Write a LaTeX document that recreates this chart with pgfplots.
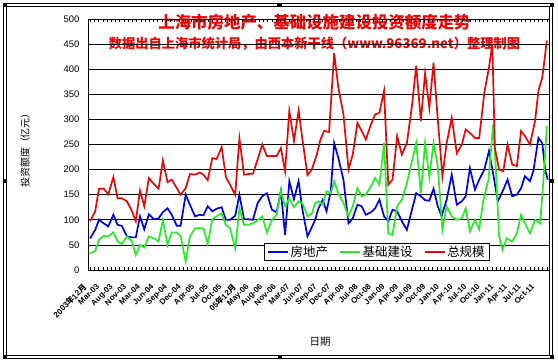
\documentclass[border=0pt]{standalone}
\usepackage{fontspec}
\setmainfont{Liberation Sans}
\newfontfamily\cjk{Noto Sans CJK SC}
\usepackage{pgfplots}
\pgfplotsset{compat=1.18}
\definecolor{cblue}{RGB}{0,0,225}
\definecolor{cgreen}{RGB}{40,235,40}
\definecolor{cred}{RGB}{228,8,8}
\definecolor{ctitle}{RGB}{240,0,0}
\begin{document}
\begin{tikzpicture}
\useasboundingbox (-88bp,-93bp) rectangle (470bp,270bp);
\node[text=ctitle, font=\cjk\bfseries\fontsize{16.5}{18}\selectfont, inner sep=0pt] at (226.5bp,247.3bp) {上海市房地产、基础设施建设投资额度走势};
\node[text=ctitle, font=\cjk\bfseries\fontsize{13.3}{15}\selectfont, inner sep=0pt] at (226.5bp,226.7bp) {数据出自上海市统计局，由西本新干线（www.96369.net）整理制图};
\begin{axis}[
  at={(0,0)}, anchor=south west,
  scale only axis, width=461bp, height=251bp,
  xmin=-0.5, xmax=108.5, ymin=0, ymax=500,
  ytick={0,50,...,500},
  ymajorgrids, grid style={black, line width=0.75bp},
  axis line style={black, line width=0.75bp},
  xtick={0,3.215,6.43,9.645,12.86,16.075,19.29,22.505,25.72,28.935,32.15,35.365,38.58,41.795,45.01,48.225,51.44,54.655,57.87,61.085,64.3,67.515,70.73,73.945,77.16,80.375,83.59,86.805,90.02,93.235,96.45,99.665,102.88,106.095},
  xticklabels={{2003{\cjk 年}12{\cjk 月}},Mar-03,Aug-03,Nov-03,Mar-04,Jun-04,Sep-04,Dec-04,Apr-05,Jul-05,Oct-05,{05{\cjk 年}12{\cjk 月}},May-06,Aug-06,Nov-06,Mar-07,Jun-07,Sep-07,Dec-07,Apr-08,Jul-08,Oct-08,Jan-09,Apr-09,Jul-09,Oct-09,Jan-10,Apr-10,Jul-10,Oct-10,Jan-11,Apr-11,Jul-11,Oct-11},
  minor xtick={0,1,...,108},
  major tick length=0pt, minor tick length=2.5bp, tick align=inside,
  tick style={black, line width=0.6bp},
  xticklabel style={font=\bfseries\fontsize{8}{8.5}\selectfont, inner sep=0pt, xshift=-8bp, yshift=-13bp, rotate=45, anchor=north east},
  yticklabel style={font=\fontsize{9.5}{10}\selectfont, xshift=-5bp},
  /pgf/number format/assume math mode=true,
  legend style={at={(axis description cs:0.382,0.036)}, anchor=south west, legend columns=3, draw=black, line width=0.75bp, fill=white, font=\cjk\fontsize{12.5}{13}\selectfont, inner xsep=3bp, inner ysep=1bp, /tikz/every even column/.append style={column sep=10bp}, nodes={inner sep=1.5bp}},
  legend image code/.code={\draw[#1] (0bp,0bp) -- (20bp,0bp);},
]
\addplot[cblue, line width=1.7bp] coordinates {(0,63)(1.2,80)(2.1,100)(3.2,93)(4.3,87)(5.5,110)(6.5,90)(7.5,88)(8.7,67)(9.9,65)(10.8,65)(11.8,107)(12.8,81)(13.9,111)(15.1,101)(16.2,103)(17.2,115)(18.3,123)(19.3,110)(20.5,88)(21.4,88)(22.6,150)(23.6,130)(24.8,107)(25.9,110)(26.8,109)(27.8,127)(28.9,117)(29.9,122)(31.1,125)(32.1,100)(33.1,100)(34.3,108)(35.3,150)(36.4,101)(37.4,101)(38.5,100)(39.6,133)(40.7,147)(41.8,153)(43,120)(44.1,115)(45.1,157)(46.1,70)(47.1,177)(48.2,141)(49.3,177)(50.2,120)(51.4,67)(52.4,85)(53.2,100)(54,123)(55,140)(55.9,117)(56.9,157)(57.7,253)(58.7,223)(59.9,180)(61.1,93)(62.1,103)(63.2,130)(64.2,127)(65.2,110)(66.4,115)(67.4,123)(68.4,140)(69.5,107)(70.5,97)(71.5,120)(72.6,117)(73.7,97)(74.9,80)(76.1,120)(77.1,153)(78.2,147)(79.2,139)(80.2,138)(81.2,162)(82.2,127)(83.1,107)(84.3,140)(85.5,190)(86.7,130)(87.9,137)(88.8,147)(89.8,203)(91,160)(92,180)(93.2,200)(94.3,237)(95.4,187)(96.4,137)(97.7,160)(98.7,180)(99.8,147)(100.9,150)(101.9,163)(102.8,187)(104,177)(104.8,197)(106,263)(106.9,253)(107.6,200)(108.2,180)};
\addplot[cgreen, line width=1.7bp] coordinates {(0,33)(1.2,38)(2.1,60)(3.2,68)(4.3,67)(5.5,75)(6.5,57)(7.5,52)(8.7,67)(9.9,57)(10.8,30)(11.8,50)(12.8,45)(13.9,67)(15.1,63)(16.2,57)(17.2,100)(18.3,50)(19.3,75)(20.5,75)(21.4,67)(22.6,17)(23.6,67)(24.8,83)(25.9,83)(26.8,83)(27.8,52)(28.9,101)(29.9,107)(31.1,113)(32.1,90)(33.1,83)(34.3,43)(35.3,123)(36.4,90)(37.4,90)(38.5,93)(39.6,99)(40.7,107)(41.8,75)(43,100)(44.1,110)(45.1,157)(46.1,127)(47.1,143)(48.2,125)(49.3,137)(50.2,133)(51.4,107)(52.4,112)(53.2,133)(54,137)(55,130)(55.9,157)(56.9,153)(57.7,177)(58.7,153)(59.9,133)(61.1,107)(62.1,127)(63.2,163)(64.2,147)(65.2,150)(66.4,167)(67.4,183)(68.4,170)(69.5,253)(70.5,73)(71.5,70)(72.6,127)(73.7,140)(74.9,173)(76.1,217)(77.1,253)(78.2,153)(79.2,253)(80.2,185)(81.2,253)(82.2,207)(83.3,80)(84.3,127)(85.5,107)(86.7,100)(87.9,103)(88.8,123)(89.8,77)(91,100)(92,81)(93,140)(94.2,180)(95.3,290)(95.9,207)(96.7,67)(97.5,40)(98.5,63)(99.8,57)(100.9,73)(101.9,110)(102.8,93)(104,73)(105.2,100)(106.4,93)(107.2,180)(108,287)};
\addplot[cred, line width=1.7bp] coordinates {(0,97)(1.2,117)(2.1,162)(3.2,162)(4.3,151)(5.5,185)(6.5,143)(7.5,143)(8.7,137)(9.9,117)(10.8,97)(11.8,158)(12.8,127)(13.9,183)(15.1,171)(16.2,162)(17.2,218)(18.3,175)(19.3,180)(20.5,163)(21.4,150)(22.6,163)(23.6,191)(24.8,190)(25.9,194)(26.8,190)(27.8,179)(28.9,223)(29.9,221)(31.1,245)(32.1,185)(33.1,170)(34.3,150)(35.3,262)(36.4,190)(37.4,191)(38.5,192)(39.6,220)(40.7,250)(41.8,227)(43,227)(44.1,227)(45.1,243)(46.1,197)(47.1,317)(48.2,257)(49.3,318)(50.2,260)(51.4,189)(52.4,200)(53.6,230)(54.4,258)(55.3,277)(56.5,275)(57.7,432)(58.7,363)(59.9,310)(61.1,200)(62.1,230)(63.2,293)(64.2,277)(65.2,260)(66.4,290)(67.4,310)(68.4,313)(69.5,357)(70.5,170)(71.5,180)(72.6,267)(73.7,230)(74.9,253)(76.1,327)(77.1,407)(78.2,297)(79.2,392)(80.2,323)(81.2,413)(82.2,300)(83.3,187)(84.3,253)(85.5,303)(86.7,233)(87.9,250)(88.8,280)(89.8,273)(91,263)(92,263)(93.2,353)(94.3,403)(95.1,450)(95.7,243)(96.7,200)(97.7,197)(98.7,250)(99.8,210)(100.9,207)(101.9,277)(102.8,267)(104,250)(105.2,297)(106,357)(106.9,383)(108,457)};
\legend{房地产,基础建设,总规模}
\end{axis}
\node[rotate=90, font=\cjk\fontsize{10}{10}\selectfont] at (-63bp,122bp) {投资额度（亿元）};
\node[font=\cjk\fontsize{10.5}{11}\selectfont] at (232bp,-72bp) {日期};
\draw[line width=0.75bp] (-85bp,-88.5bp) rectangle (464bp,267bp);
\draw[line width=0.75bp] (-82bp,-85.5bp) rectangle (461bp,264bp);
\foreach \p in {(-83bp,265bp),(191.5bp,265bp),(464bp,265bp),(-83bp,89bp),(464bp,89bp),(-83bp,-87bp),(192bp,-87bp),(464bp,-87bp)}
  \fill[black] \p ++(-2.2bp,-2.2bp) rectangle ++(4.4bp,4.4bp);
\end{tikzpicture}
\end{document}
